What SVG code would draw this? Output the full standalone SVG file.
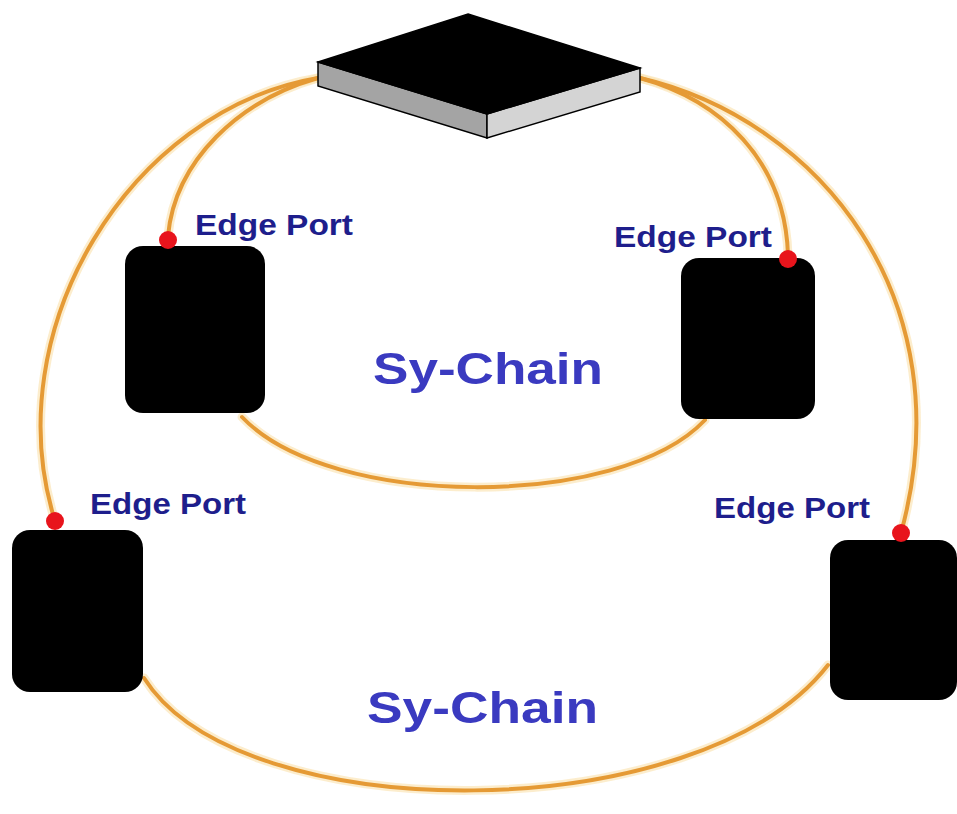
<svg xmlns="http://www.w3.org/2000/svg" width="957" height="814" viewBox="0 0 957 814">
<style>
.halo{fill:none;stroke:#fbe6b8;stroke-width:9;stroke-linecap:round;opacity:0.7}
.cable{fill:none;stroke:#e59a35;stroke-width:4;stroke-linecap:round}
.dev{fill:#000}
.port{fill:#e8141c}
.lbl{font-family:"Liberation Sans",Arial,sans-serif;font-weight:bold;font-size:30px;fill:#1e1e8c}
.chain{font-family:"Liberation Sans",Arial,sans-serif;font-weight:bold;font-size:45px;fill:#3a3ac0}
</style>
<rect width="957" height="814" fill="#fff"/>
<g id="connectors">
<path class="halo" d="M318,78 C240,100 175,160 168,236"/>
<path class="halo" d="M318,78 C130,110 -5,330 55,521"/>
<path class="halo" d="M640,78 C720,100 785,160 788,255"/>
<path class="halo" d="M640,78 C820,120 965,300 901,533"/>
<path class="halo" d="M242,417 C330,510 620,510 705,420"/>
<path class="halo" d="M144,678 C240,830 700,830 828,665"/>
<path class="cable" d="M318,78 C240,100 175,160 168,236"/>
<path class="cable" d="M318,78 C130,110 -5,330 55,521"/>
<path class="cable" d="M640,78 C720,100 785,160 788,255"/>
<path class="cable" d="M640,78 C820,120 965,300 901,533"/>
<path class="cable" d="M242,417 C330,510 620,510 705,420"/>
<path class="cable" d="M144,678 C240,830 700,830 828,665"/>
</g>
<g id="switch">
<polygon points="318,62 487,114 487,138 318,86" fill="#a4a4a4" stroke="#000" stroke-width="1.5"/>
<polygon points="487,114 640,68 640,92 487,138" fill="#d4d4d4" stroke="#000" stroke-width="1.5"/>
<polygon points="468,14 640,68 487,114 318,62" fill="#000" stroke="#000" stroke-width="1.5"/>
</g>
<g id="node1">
<rect class="dev" x="125" y="246" width="140" height="167" rx="18"/>
<circle class="port" cx="168" cy="240" r="9"/>
<text class="lbl" x="195" y="235" textLength="158" lengthAdjust="spacingAndGlyphs">Edge Port</text>
</g>
<g id="node2">
<rect class="dev" x="681" y="258" width="134" height="161" rx="18"/>
<circle class="port" cx="788" cy="259" r="9"/>
<text class="lbl" x="614" y="247" textLength="158" lengthAdjust="spacingAndGlyphs">Edge Port</text>
</g>
<g id="node3">
<rect class="dev" x="12" y="530" width="131" height="162" rx="18"/>
<circle class="port" cx="55" cy="521" r="9"/>
<text class="lbl" x="90" y="514" textLength="156" lengthAdjust="spacingAndGlyphs">Edge Port</text>
</g>
<g id="node4">
<rect class="dev" x="830" y="540" width="127" height="160" rx="18"/>
<circle class="port" cx="901" cy="533" r="9"/>
<text class="lbl" x="714" y="518" textLength="156" lengthAdjust="spacingAndGlyphs">Edge Port</text>
</g>
<g id="labels">
<text class="chain" x="373" y="384" textLength="230" lengthAdjust="spacingAndGlyphs">Sy-Chain</text>
<text class="chain" x="367" y="723" textLength="231" lengthAdjust="spacingAndGlyphs">Sy-Chain</text>
</g>
</svg>
